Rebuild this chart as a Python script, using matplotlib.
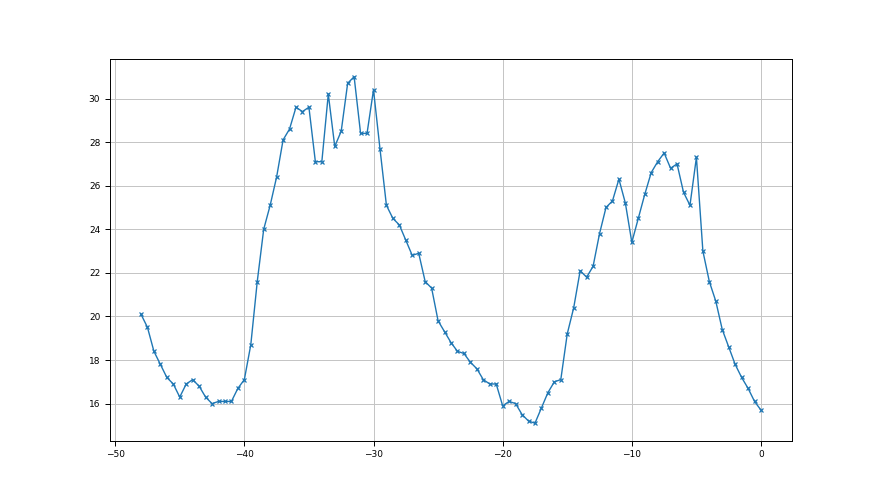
import matplotlib
matplotlib.use('Agg')
import matplotlib.pyplot as plt
import numpy as np

# readings taken every 0.5 from -48 to 0
x = np.arange(-48, 0.01, 0.5)
y = [20.1, 19.5, 18.4, 17.8, 17.2, 16.9, 16.3, 16.9, 17.1, 16.8,
     16.3, 16.0, 16.1, 16.1, 16.1, 16.7, 17.1,
     18.7, 21.6, 24.0, 25.1, 26.4, 28.1, 28.6, 29.6, 29.4, 29.6,
     27.1, 27.1, 30.2, 27.8, 28.5, 30.7, 31.0, 28.4, 28.4, 30.4,
     27.7, 25.1, 24.5, 24.2, 23.5, 22.8, 22.9, 21.6, 21.3, 19.8,
     19.3, 18.8, 18.4, 18.3, 17.9, 17.6, 17.1, 16.9, 16.9, 15.9,
     16.1, 16.0, 15.5, 15.2, 15.1, 15.8, 16.5, 17.0, 17.1, 19.2,
     20.4, 22.1, 21.8, 22.3, 23.8, 25.0, 25.3, 26.3, 25.2, 23.4,
     24.5, 25.6, 26.6, 27.1, 27.5, 26.8, 27.0, 25.7, 25.1, 27.3,
     23.0, 21.6, 20.7, 19.4, 18.6, 17.8, 17.2, 16.7, 16.1, 15.7]

fig = plt.figure(figsize=(8.8, 4.95), dpi=100)
plt.plot(x, y, marker='x', markersize=3.5, markeredgewidth=0.9, linewidth=1.0)
plt.grid(True, color='#c4c4c4', linewidth=0.7)
plt.tick_params(labelsize=6.5, width=0.7)
for s in plt.gca().spines.values():
    s.set_linewidth(0.7)
plt.savefig('out.png')
